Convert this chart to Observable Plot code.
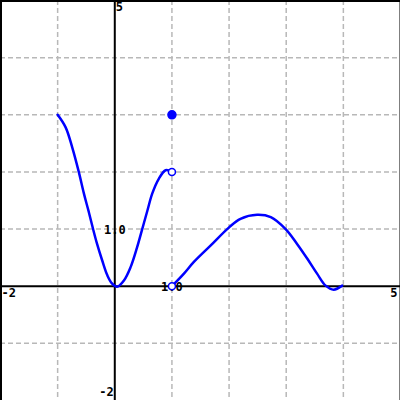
<!DOCTYPE html>
<html>
<head>
<meta charset="utf-8">
<script src="https://cdn.jsdelivr.net/npm/d3@7"></script>
<script src="https://cdn.jsdelivr.net/npm/@observablehq/plot@0.6"></script>
<style>
  html, body { margin: 0; padding: 0; background: #fff; }
</style>
</head>
<body>
<div id="chart"></div>
<script>
// Piece 1: from (-1,3) down to (0,0), then up to (1,2) (open end)
const seg1X = [-1.0, -0.86, -0.745, -0.63, -0.54, -0.455, -0.38, -0.31, -0.22, -0.13, -0.05, 0.04, 0.16, 0.275, 0.39, 0.48, 0.57, 0.655, 0.77, 0.89, 1.0];
const seg1Y = [3.0, 2.78, 2.43, 2.0, 1.62, 1.3, 1.0, 0.74, 0.45, 0.19, 0.05, -0.01, 0.10, 0.33, 0.68, 1.0, 1.32, 1.62, 1.88, 2.03, 2.0];
// Piece 2: from (1,0) (open) up to a hump and down to ~ (3.8,0)
const seg2X = [1.0, 1.21, 1.38, 1.675, 2.0, 2.2, 2.49, 2.73, 2.99, 3.19, 3.37, 3.54, 3.69, 3.83, 3.98];
const seg2Y = [0.0, 0.22, 0.42, 0.71, 1.03, 1.18, 1.25, 1.21, 1.0, 0.74, 0.48, 0.22, 0.01, -0.06, 0.01];
// Special points
const filledX = [1]; const filledY = [3];
const openX = [1, 1]; const openY = [2, 0];
// Grid and labels
const gridValues = [-1, 0, 1, 2, 3, 4];
const xLabels = [{v: -2, t: "-2"}, {v: 1, t: "1.0"}, {v: 5, t: "5"}];
const yLabels = [{v: 5, t: "5"}, {v: 1, t: "1.0"}, {v: -2, t: "-2"}];

const seg1 = seg1X.map((x, i) => ({x, y: seg1Y[i]}));
const seg2 = seg2X.map((x, i) => ({x, y: seg2Y[i]}));
const filled = filledX.map((x, i) => ({x, y: filledY[i]}));
const open = openX.map((x, i) => ({x, y: openY[i]}));

const font = "'DejaVu Sans Mono', monospace";
const grid = "#b8b8b8";
const blue = "#0000ff";

const chart = Plot.plot({
  width: 400,
  height: 400,
  margin: 0,
  x: {domain: [-2, 5], axis: null},
  y: {domain: [-2, 5], axis: null},
  style: {background: "#fff"},
  marks: [
    Plot.ruleX(gridValues.filter(v => v !== 0), {stroke: grid, strokeWidth: 1.5, strokeDasharray: "5,3"}),
    Plot.ruleY(gridValues.filter(v => v !== 0), {stroke: grid, strokeWidth: 1.5, strokeDasharray: "5,3"}),
    Plot.ruleX([0], {stroke: "black", strokeWidth: 2}),
    Plot.ruleY([0], {stroke: "black", strokeWidth: 2}),
    // frame (top, left, right)
    Plot.ruleY([5], {stroke: "black", strokeWidth: 3}),
    Plot.ruleX([-2], {stroke: "black", strokeWidth: 3}),
    Plot.ruleX([5], {stroke: "black", strokeWidth: 2}),
    // x labels
    Plot.text(xLabels.filter(d => d.v === -2), {x: "v", y: 0, text: "t", textAnchor: "start", dx: 1, dy: 7, fontFamily: font, fontWeight: "bold", fontSize: 12, fill: "black"}),
    Plot.text(xLabels.filter(d => d.v === 5), {x: "v", y: 0, text: "t", textAnchor: "end", dx: -3, dy: 7, fontFamily: font, fontWeight: "bold", fontSize: 12, fill: "black"}),
    Plot.text(xLabels.filter(d => d.v === 1), {x: "v", y: 0, text: "t", textAnchor: "middle", dx: 0, dy: 1, fontFamily: font, fontWeight: "bold", fontSize: 12, fill: "black"}),
    // y labels
    Plot.text(yLabels.filter(d => d.v === 5), {x: 0, y: "v", text: "t", textAnchor: "start", dx: 1, dy: 7, fontFamily: font, fontWeight: "bold", fontSize: 12, fill: "black"}),
    Plot.text(yLabels.filter(d => d.v === -2), {x: 0, y: "v", text: "t", textAnchor: "end", dx: -1, dy: -8, fontFamily: font, fontWeight: "bold", fontSize: 12, fill: "black"}),
    Plot.text(yLabels.filter(d => d.v === 1), {x: 0, y: "v", text: "t", textAnchor: "middle", dx: 0, dy: 1, fontFamily: font, fontWeight: "bold", fontSize: 12, fill: "black"}),
    // curves
    Plot.line(seg1, {x: "x", y: "y", stroke: blue, strokeWidth: 2.5, curve: "catmull-rom"}),
    Plot.line(seg2, {x: "x", y: "y", stroke: blue, strokeWidth: 2.5, curve: "catmull-rom"}),
    Plot.dot(filled, {x: "x", y: "y", r: 4, fill: blue, stroke: blue}),
    Plot.dot(open, {x: "x", y: "y", r: 3.5, fill: "white", stroke: blue, strokeWidth: 1.5})
  ]
});
document.getElementById("chart").appendChild(chart);
</script>
</body>
</html>
